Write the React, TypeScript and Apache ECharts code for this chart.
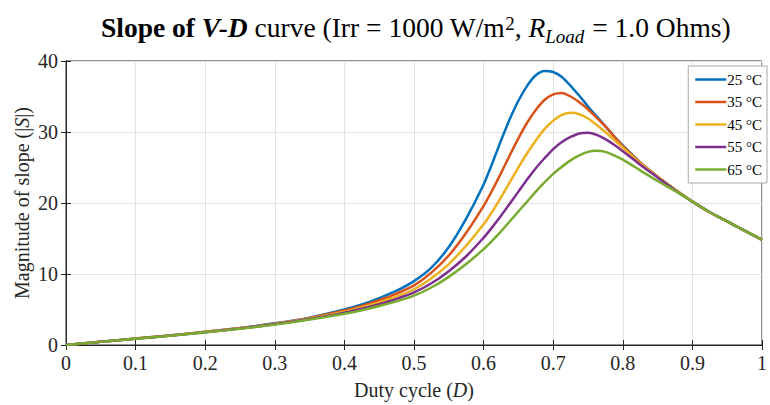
import React, { useEffect, useRef } from "react";
import * as echarts from "echarts";

const dutyCycle = [0, 0.05, 0.1, 0.15, 0.2, 0.25, 0.3, 0.35, 0.4, 0.425, 0.45, 0.475, 0.5, 0.525, 0.55, 0.575, 0.6, 0.6125, 0.625, 0.6375, 0.65, 0.6625, 0.675, 0.6875, 0.7, 0.7125, 0.725, 0.7375, 0.75, 0.7625, 0.775, 0.7875, 0.8, 0.825, 0.85, 0.875, 0.9, 0.925, 0.95, 0.975, 1.0];

const slope25 = [0, 0.45, 0.9, 1.35, 1.85, 2.4, 3.05, 3.85, 5.0, 5.7, 6.6, 7.65, 9.0, 10.9, 13.8, 17.8, 22.6, 25.6, 28.8, 31.8, 34.4, 36.5, 38.0, 38.6, 38.45, 37.75, 36.5, 35.1, 33.6, 32.2, 30.8, 29.4, 28.1, 25.7, 23.7, 21.9, 20.2, 18.7, 17.4, 16.1, 14.8];
const slope35 = [0, 0.45, 0.9, 1.35, 1.85, 2.38, 3.0, 3.8, 4.85, 5.5, 6.3, 7.25, 8.4, 10.2, 12.6, 15.8, 19.6, 21.8, 24.2, 26.7, 29.1, 31.3, 33.1, 34.5, 35.3, 35.5, 35.0, 34.2, 33.2, 32.0, 30.8, 29.4, 28.0, 25.7, 23.7, 21.9, 20.2, 18.7, 17.4, 16.1, 14.8];
const slope45 = [0, 0.45, 0.9, 1.35, 1.83, 2.35, 2.97, 3.72, 4.7, 5.3, 6.0, 6.85, 7.85, 9.4, 11.4, 14.0, 17.0, 18.8, 20.8, 22.9, 25.0, 27.0, 28.8, 30.4, 31.6, 32.4, 32.7, 32.5, 31.9, 31.0, 30.0, 28.9, 27.8, 25.6, 23.7, 21.9, 20.2, 18.7, 17.4, 16.1, 14.8];
const slope55 = [0, 0.45, 0.88, 1.33, 1.8, 2.32, 2.93, 3.65, 4.55, 5.1, 5.75, 6.5, 7.4, 8.7, 10.4, 12.5, 15.1, 16.6, 18.2, 19.9, 21.6, 23.3, 24.9, 26.3, 27.6, 28.6, 29.3, 29.8, 29.9, 29.6, 29.0, 28.2, 27.3, 25.4, 23.6, 21.8, 20.2, 18.7, 17.4, 16.1, 14.8];
const slope65 = [0, 0.44, 0.87, 1.3, 1.78, 2.28, 2.87, 3.58, 4.4, 4.9, 5.5, 6.15, 6.95, 8.1, 9.6, 11.4, 13.5, 14.7, 16.0, 17.4, 18.8, 20.2, 21.6, 22.9, 24.1, 25.1, 26.0, 26.7, 27.2, 27.35, 27.2, 26.7, 26.1, 24.6, 23.1, 21.7, 20.2, 18.7, 17.4, 16.1, 14.8];

const seriesNames = ["25 °C", "35 °C", "45 °C", "55 °C", "65 °C"];
const seriesValues = [slope25, slope35, slope45, slope55, slope65];
const seriesColors = ["#0072BD", "#D95319", "#EDB120", "#7E2F8E", "#77AC30"];

const FONT = "'Liberation Serif', 'Times New Roman', serif";

export default function App() {
  const ref = useRef<HTMLDivElement>(null);
  useEffect(() => {
    if (!ref.current) return;
    const chart = echarts.init(ref.current, null, { renderer: "svg" });
    const axisLine = { show: true, lineStyle: { color: "#262626", width: 1 } };
    const tick = { show: true, inside: true, length: 5, lineStyle: { color: "#262626" } };
    const main = { fontFamily: FONT, fontSize: 27.5, color: "#000", lineHeight: 32, verticalAlign: "top" };
    chart.setOption({
      animation: false,
      backgroundColor: "#ffffff",
      title: {
        left: 96,
        top: 8.5,
        text: "{b|Slope of }{bi|V-D}{n| curve (Irr = 1000 W/m}{sup|2}{n|, }{i|R}{sub|Load}{n| = 1.0 Ohms)}",
        textStyle: {
          fontFamily: FONT,
          fontWeight: "normal",
          rich: {
            b: { ...main, fontWeight: "bold" },
            bi: { ...main, fontWeight: "bold", fontStyle: "italic" },
            n: { ...main, fontWeight: "normal" },
            i: { ...main, fontWeight: "normal", fontStyle: "italic" },
            sup: { fontFamily: FONT, fontSize: 19, fontWeight: "normal", color: "#000", lineHeight: 19, verticalAlign: "top" },
            sub: { fontFamily: FONT, fontSize: 19, fontWeight: "normal", fontStyle: "italic", color: "#000", lineHeight: 19, verticalAlign: "bottom", padding: [20, 1, 0, 0] },
          },
        },
      },
      legend: {
        orient: "vertical",
        right: 3,
        top: 66,
        data: seriesNames,
        icon: "rect",
        itemWidth: 31,
        itemHeight: 2.5,
        itemGap: 7.5,
        padding: [6, 5, 6, 7],
        backgroundColor: "#ffffff",
        borderColor: "#a8a8a8",
        borderWidth: 1,
        borderRadius: 0,
        textStyle: { fontFamily: FONT, fontSize: 15, lineHeight: 14, color: "#000", padding: [0, 0, 0, -4] },
      },
      grid: { left: 66, right: 2, top: 61, bottom: 57, show: true, borderColor: "#262626", borderWidth: 1, backgroundColor: "#fff" },
      xAxis: [
        {
          type: "value",
          min: 0,
          max: 1,
          interval: 0.1,
          position: "bottom",
          axisLine,
          axisTick: tick,
          splitLine: { show: true, lineStyle: { color: "#e3e3e3", width: 1 } },
          axisLabel: {
            fontFamily: FONT,
            fontSize: 20,
            color: "#262626",
            margin: 8,
            formatter: (v: number) => String(parseFloat(v.toFixed(1))),
          },
          name: "{n|Duty cycle (}{i|D}{n|)}",
          nameLocation: "middle",
          nameGap: 35,
          nameMoveOverlap: false,
          nameTextStyle: {
            rich: {
              n: { fontFamily: FONT, fontSize: 20, color: "#262626" },
              i: { fontFamily: FONT, fontSize: 20, fontStyle: "italic", color: "#262626" },
            },
          },
        },
        {
          type: "value",
          min: 0,
          max: 1,
          interval: 0.1,
          position: "top",
          axisLine,
          axisTick: tick,
          axisLabel: { show: false },
          splitLine: { show: false },
        },
      ],
      yAxis: [
        {
          type: "value",
          min: 0,
          max: 40,
          interval: 10,
          position: "left",
          axisLine,
          axisTick: tick,
          splitLine: { show: true, lineStyle: { color: "#e3e3e3", width: 1 } },
          axisLabel: { fontFamily: FONT, fontSize: 20, color: "#262626", margin: 8 },
          name: "{n|Magnitude of slope (|}{i|S}{n||)}",
          nameLocation: "middle",
          nameGap: 34,
          nameMoveOverlap: false,
          nameRotate: 90,
          nameTextStyle: {
            rich: {
              n: { fontFamily: FONT, fontSize: 20, color: "#262626" },
              i: { fontFamily: FONT, fontSize: 20, fontStyle: "italic", color: "#262626" },
            },
          },
        },
        {
          type: "value",
          min: 0,
          max: 40,
          interval: 10,
          position: "right",
          axisLine,
          axisTick: tick,
          axisLabel: { show: false },
          splitLine: { show: false },
        },
      ],
      series: seriesNames.map((name, k) => ({
        name,
        type: "line",
        xAxisIndex: 0,
        yAxisIndex: 0,
        data: dutyCycle.map((d, i) => [d, seriesValues[k][i]]),
        smooth: 0.25,
        symbol: "none",
        showSymbol: false,
        color: seriesColors[k],
        itemStyle: { color: seriesColors[k] },
        lineStyle: { color: seriesColors[k], width: 2.5 },
        z: 2 + k,
      })),
    });
    return () => chart.dispose();
  }, []);
  return <div ref={ref} style={{ position: "fixed", left: 0, top: 0, width: 770, height: 405 }} />;
}
